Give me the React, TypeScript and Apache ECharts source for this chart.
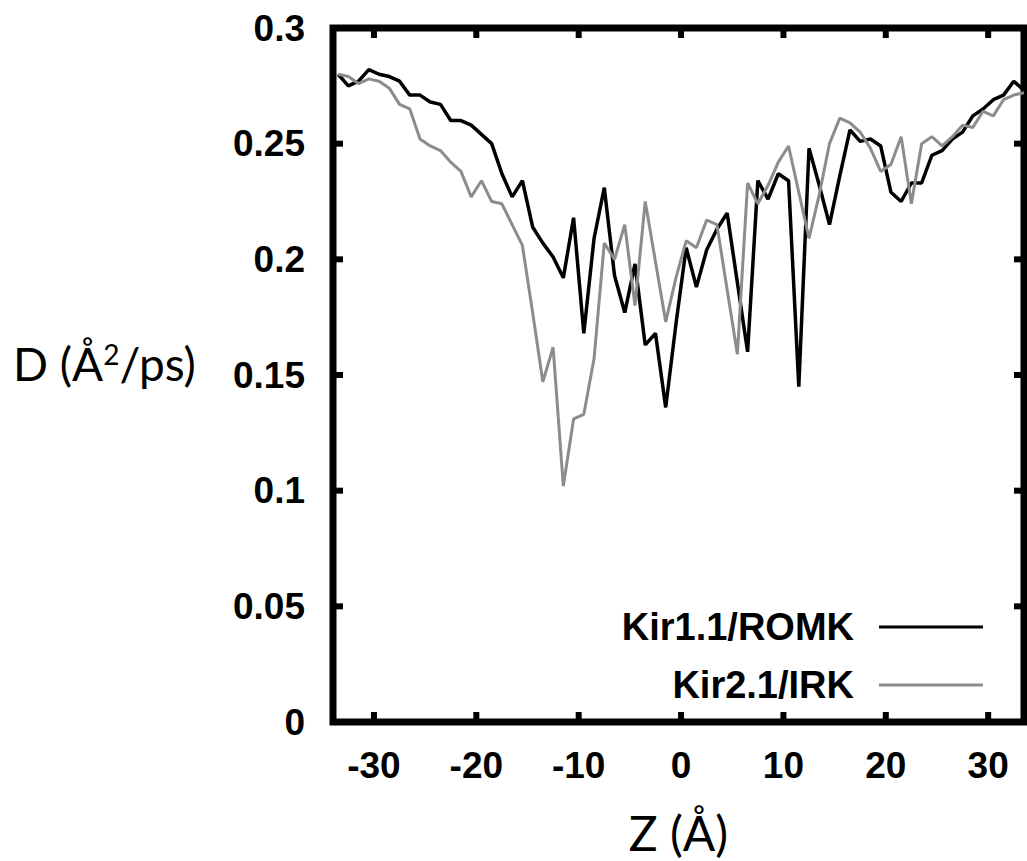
import React, { useEffect, useRef } from "react";
import * as echarts from "echarts";

const zPositions = [
  -33.5, -32.5, -31.5, -30.5, -29.5, -28.5, -27.5, -26.5, -25.5, -24.5,
  -23.5, -22.5, -21.5, -20.5, -19.5, -18.5, -17.5, -16.5, -15.5, -14.5,
  -13.5, -12.5, -11.5, -10.5, -9.5, -8.5, -7.5, -6.5, -5.5, -4.5,
  -3.5, -2.5, -1.5, -0.5, 0.5, 1.5, 2.5, 3.5, 4.5, 5.5,
  6.5, 7.5, 8.5, 9.5, 10.5, 11.5, 12.5, 13.5, 14.5, 15.5,
  16.5, 17.5, 18.5, 19.5, 20.5, 21.5, 22.5, 23.5, 24.5, 25.5,
  26.5, 27.5, 28.5, 29.5, 30.5, 31.5, 32.5, 33.5,
];

const kir11Romk = [
  0.280, 0.275, 0.277, 0.282, 0.280, 0.279, 0.277, 0.271, 0.271, 0.268,
  0.267, 0.260, 0.260, 0.258, 0.254, 0.250, 0.237, 0.227, 0.234, 0.214,
  0.207, 0.201, 0.192, 0.218, 0.168, 0.209, 0.231, 0.193, 0.177, 0.198,
  0.163, 0.168, 0.136, 0.172, 0.205, 0.188, 0.204, 0.213, 0.220, 0.190,
  0.160, 0.234, 0.226, 0.237, 0.234, 0.145, 0.248, 0.232, 0.215, 0.236,
  0.256, 0.251, 0.252, 0.249, 0.229, 0.225, 0.233, 0.233, 0.245, 0.247,
  0.252, 0.255, 0.262, 0.265, 0.269, 0.271, 0.277, 0.273,
];

const kir21Irk = [
  0.280, 0.279, 0.276, 0.278, 0.277, 0.274, 0.267, 0.265, 0.252, 0.249,
  0.247, 0.242, 0.238, 0.227, 0.234, 0.225, 0.224, 0.215, 0.206, 0.177,
  0.147, 0.162, 0.102, 0.131, 0.133, 0.157, 0.207, 0.200, 0.215, 0.180,
  0.225, 0.199, 0.173, 0.192, 0.208, 0.205, 0.217, 0.215, 0.187, 0.159,
  0.233, 0.224, 0.232, 0.242, 0.249, 0.229, 0.209, 0.228, 0.250, 0.261,
  0.259, 0.255, 0.248, 0.238, 0.241, 0.253, 0.224, 0.250, 0.253, 0.249,
  0.253, 0.258, 0.257, 0.264, 0.262, 0.269, 0.271, 0.272,
];

const xTickValues = [-30, -20, -10, 0, 10, 20, 30];
const yTickValues = [0.05, 0.1, 0.15, 0.2, 0.25];
const seriesNames = ["Kir1.1/ROMK", "Kir2.1/IRK"];

const TICK_FONT = "'Liberation Sans', Arial, sans-serif";
const TITLE_FONT = "Lato, 'Open Sans', sans-serif";

const TICK_LEN = 10;
const TICK_W = 6;

export default function App() {
  const ref = useRef<HTMLDivElement>(null);

  useEffect(() => {
    if (!ref.current) return;
    const chart = echarts.init(ref.current, null, { renderer: "svg" });

    const xTickRender = (params: any, api: any) => {
      const cs = params.coordSys;
      const p = api.coord([api.value(0), 0.15]);
      const style = { fill: "#000" };
      return {
        type: "group",
        children: [
          {
            type: "rect",
            shape: { x: p[0] - TICK_W / 2, y: cs.y + cs.height - TICK_LEN, width: TICK_W, height: TICK_LEN },
            style,
          },
          {
            type: "rect",
            shape: { x: p[0] - TICK_W / 2, y: cs.y, width: TICK_W, height: TICK_LEN },
            style,
          },
        ],
      };
    };

    const yTickRender = (params: any, api: any) => {
      const cs = params.coordSys;
      const p = api.coord([0, api.value(1)]);
      const style = { fill: "#000" };
      return {
        type: "group",
        children: [
          {
            type: "rect",
            shape: { x: cs.x, y: p[1] - TICK_W / 2, width: TICK_LEN, height: TICK_W },
            style,
          },
          {
            type: "rect",
            shape: { x: cs.x + cs.width - TICK_LEN, y: p[1] - TICK_W / 2, width: TICK_LEN, height: TICK_W },
            style,
          },
        ],
      };
    };

    chart.setOption({
      animation: false,
      backgroundColor: "#fff",
      grid: {
        left: 333,
        right: 3,
        top: 28,
        bottom: 138,
        containLabel: false,
        show: true,
        borderWidth: 7,
        borderColor: "#000",
        backgroundColor: "transparent",
      },
      legend: {
        orient: "vertical",
        right: 39,
        top: 603,
        align: "right",
        icon: "rect",
        itemWidth: 104,
        itemHeight: 3,
        itemGap: 20,
        data: seriesNames,
        textStyle: {
          fontSize: 38,
          lineHeight: 38,
          fontWeight: "bold",
          fontFamily: TICK_FONT,
          color: "#000",
          padding: [0, 20, 0, 0],
        },
      },
      xAxis: {
        type: "value",
        min: -34,
        max: 33.5,
        axisLine: { show: false },
        axisTick: { show: false },
        axisLabel: {
          customValues: xTickValues,
          fontSize: 37,
          fontWeight: "bold",
          fontFamily: TICK_FONT,
          color: "#000",
          margin: 25,
        },
        splitLine: { show: false },
        name: "Z (Å)",
        nameLocation: "middle",
        nameGap: 86,
        nameTextStyle: { fontSize: 48, fontFamily: TITLE_FONT, color: "#000" },
      },
      yAxis: {
        type: "value",
        min: 0,
        max: 0.3,
        interval: 0.05,
        axisLine: { show: false },
        axisTick: { show: false },
        axisLabel: {
          fontSize: 37,
          fontWeight: "bold",
          fontFamily: TICK_FONT,
          color: "#000",
          margin: 28,
        },
        splitLine: { show: false },
      },
      graphic: [
        {
          type: "text",
          left: 13,
          top: 340,
          style: {
            text: "{a|D (Å}{s|2}{a|/ps)}",
            rich: {
              a: { fontSize: 46, fontFamily: TITLE_FONT, fill: "#000" },
              s: {
                fontSize: 28,
                fontFamily: TITLE_FONT,
                fill: "#000",
                verticalAlign: "top",
                padding: [0, 0, 14, 0],
              },
            },
          },
        },
      ],
      series: [
        {
          name: seriesNames[0],
          type: "line",
          data: zPositions.map((z, i) => [z, kir11Romk[i]]),
          showSymbol: false,
          symbol: "none",
          color: "#000",
          lineStyle: { color: "#000", width: 3.5 },
          clip: true,
          z: 3,
        },
        {
          name: seriesNames[1],
          type: "line",
          data: zPositions.map((z, i) => [z, kir21Irk[i]]),
          showSymbol: false,
          symbol: "none",
          color: "#8c8c8c",
          lineStyle: { color: "#8c8c8c", width: 3 },
          clip: true,
          z: 3,
        },
        {
          name: "xTicks",
          type: "custom",
          data: xTickValues.map((v) => [v, 0.15]),
          renderItem: xTickRender,
          clip: false,
          silent: true,
          z: 5,
        },
        {
          name: "yTicks",
          type: "custom",
          data: yTickValues.map((v) => [0, v]),
          renderItem: yTickRender,
          clip: false,
          silent: true,
          z: 5,
        },
      ],
    });

    return () => chart.dispose();
  }, []);

  return (
    <div
      ref={ref}
      style={{ position: "absolute", left: 0, top: 0, width: 1027, height: 861 }}
    />
  );
}
